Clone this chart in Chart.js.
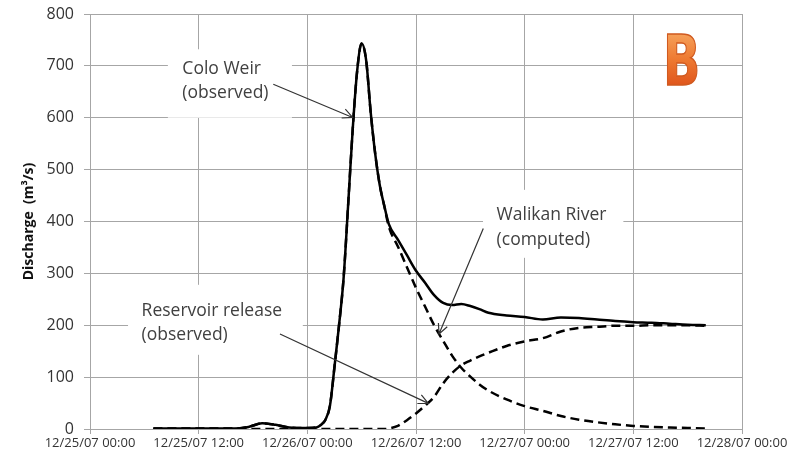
<!DOCTYPE html>
<html>
<head>
<meta charset="utf-8">
<script src="https://cdn.jsdelivr.net/npm/chart.js@4.4.0/dist/chart.umd.min.js"></script>
<style>
  body { margin: 0; background: #fff; }
  #wrap { width: 802px; height: 457px; }
</style>
</head>
<body>
<div id="wrap"><canvas id="dischargeChart" width="802" height="457"></canvas></div>
<script>
// Hours since 12/25/07 00:00
const hours = [7, 12, 16, 17.5, 19, 20.5, 22, 24, 25, 25.5, 26, 26.5, 27, 27.5, 28, 28.5,
  29, 29.5, 30, 30.5, 31, 31.5, 32, 32.5, 33, 34, 35, 36, 37, 38, 39, 40,
  41, 42, 43, 44, 46, 48, 50, 52, 54, 56, 58, 60, 62, 64, 66, 68];

// Discharge (m3/s)
const coloWeir = [1, 1, 1, 4, 11, 8, 3, 2, 3, 8, 18, 45, 120, 200, 290, 430,
  575, 690, 743, 710, 610, 530, 470, 430, 395, 365, 335, 305, 282, 258, 243, 239,
  241, 237, 231, 224, 219, 216, 211, 215, 214, 211, 208, 206, 205, 203, 201, 200];
const walikanRiver = [1, 1, 1, 4, 11, 8, 3, 2, 3, 8, 18, 45, 120, 200, 290, 430,
  575, 690, 743, 710, 610, 530, 470, 430, 390, 352, 312, 272, 236, 200, 170, 141,
  118, 101, 86, 74, 57, 44, 35, 25, 18, 13, 9, 6, 4, 3, 2, 1];
const reservoirRelease = [0, 0, 0, 0, 0, 0, 0, 0, 0, 0, 0, 0, 0, 0, 0, 0,
  0, 0, 0, 0, 0, 0, 0, 0, 1, 6, 17, 30, 45, 62, 88, 108,
  123, 132, 140, 147, 160, 169, 175, 188, 195, 197, 199, 199, 200, 200, 200, 199];

const xTickLabels = ['12/25/07 00:00', '12/25/07 12:00', '12/26/07 00:00', '12/26/07 12:00',
  '12/27/07 00:00', '12/27/07 12:00', '12/28/07 00:00'];

// callouts, placed in axis units (hours, m3/s)
const callouts = [
  { lines: ['Colo Weir', '(observed)'], box: [8.6, 22.3, 732, 600], textX: 10.2, textY: [694, 648],
    arrow: [20.24, 664.7, 29.0, 600.6] },
  { lines: ['Walikan River', '(computed)'], box: [43.4, 58.9, 461, 330], textX: 44.9, textY: [412, 364],
    arrow: [43.43, 386.7, 38.54, 183] },
  { lines: ['Reservoir release', '(observed)'], box: [4.2, 23.5, 278, 143], textX: 5.7, textY: [227, 181],
    arrow: [20.98, 183, 37.36, 49.4] }
];

function toPoints(values) {
  return values.map((v, i) => ({ x: hours[i], y: v }));
}

function drawArrow(ctx, x1, y1, x2, y2) {
  const ang = Math.atan2(y2 - y1, x2 - x1);
  const len = 11, spread = 0.45;
  ctx.beginPath();
  ctx.moveTo(x1, y1);
  ctx.lineTo(x2, y2);
  ctx.moveTo(x2 - len * Math.cos(ang - spread), y2 - len * Math.sin(ang - spread));
  ctx.lineTo(x2, y2);
  ctx.lineTo(x2 - len * Math.cos(ang + spread), y2 - len * Math.sin(ang + spread));
  ctx.stroke();
}

const calloutPlugin = {
  id: 'callouts',
  beforeDatasetsDraw(chart) {
    const { ctx, scales: { x, y } } = chart;
    ctx.save();
    callouts.forEach(c => {
      const l = x.getPixelForValue(c.box[0]), r = x.getPixelForValue(c.box[1]);
      const t = y.getPixelForValue(c.box[2]), b = y.getPixelForValue(c.box[3]);
      ctx.fillStyle = '#fff';
      ctx.fillRect(l, t, r - l, b - t);
      ctx.fillStyle = '#404040';
      ctx.font = '17.5px "Open Sans"';
      ctx.textBaseline = 'middle';
      ctx.textAlign = 'left';
      c.lines.forEach((txt, i) => {
        ctx.fillText(txt, x.getPixelForValue(c.textX), y.getPixelForValue(c.textY[i]));
      });
    });
    ctx.restore();
  },
  afterDatasetsDraw(chart) {
    const { ctx, scales: { x, y } } = chart;
    ctx.save();
    ctx.strokeStyle = '#333';
    ctx.lineWidth = 1.2;
    callouts.forEach(c => {
      const a = c.arrow;
      drawArrow(ctx, x.getPixelForValue(a[0]), y.getPixelForValue(a[1]),
        x.getPixelForValue(a[2]), y.getPixelForValue(a[3]));
    });

    // panel letter
    ctx.translate(663, 85);
    ctx.scale(0.7, 1);
    ctx.font = 'bold 70px "DejaVu Sans"';
    ctx.textBaseline = 'alphabetic';
    const grad = ctx.createLinearGradient(0, -52, 0, 0);
    grad.addColorStop(0, '#f6a15a');
    grad.addColorStop(0.5, '#ee7a32');
    grad.addColorStop(1, '#e0561c');
    ctx.fillStyle = grad;
    ctx.fillText('B', 0, 0);
    ctx.lineWidth = 1.5;
    ctx.strokeStyle = '#d05a20';
    ctx.strokeText('B', 0, 0);
    ctx.restore();
  }
};

const ctx = document.getElementById('dischargeChart').getContext('2d');
const chart = new Chart(ctx, {
  type: 'line',
  data: {
    datasets: [
      {
        label: 'Reservoir release (observed)',
        data: toPoints(reservoirRelease),
        borderColor: '#000',
        borderWidth: 2.5,
        borderDash: [9, 5],
        pointRadius: 0,
        cubicInterpolationMode: 'monotone',
        fill: false
      },
      {
        label: 'Colo Weir (observed)',
        data: toPoints(coloWeir),
        borderColor: '#000',
        borderWidth: 2.5,
        pointRadius: 0,
        cubicInterpolationMode: 'monotone',
        fill: false
      },
      {
        label: 'Walikan River (computed)',
        data: toPoints(walikanRiver),
        borderColor: '#000',
        borderWidth: 2.5,
        borderDash: [9, 5],
        pointRadius: 0,
        cubicInterpolationMode: 'monotone',
        fill: false
      }
    ]
  },
  options: {
    responsive: false,
    animation: false,
    devicePixelRatio: 1,
    layout: { padding: { left: 0, right: 60, top: 14, bottom: 0 } },
    plugins: {
      legend: { display: false },
      tooltip: { enabled: false }
    },
    scales: {
      x: {
        type: 'linear',
        min: 0,
        max: 72,
        afterFit: s => { s.height = 28; },
        grid: { color: '#a6a6a6', lineWidth: 1, tickLength: 5 },
        border: { color: '#a6a6a6' },
        ticks: {
          stepSize: 12,
          autoSkip: false,
          maxRotation: 0,
          padding: 1,
          color: '#333',
          font: { family: 'Open Sans', size: 13 },
          callback: v => xTickLabels[v / 12]
        }
      },
      y: {
        min: 0,
        max: 800,
        afterFit: s => { s.width = 90; s.paddingTop = 8; s.paddingBottom = 8; },
        grid: { color: '#a6a6a6', lineWidth: 1, tickLength: 6 },
        border: { color: '#a6a6a6' },
        ticks: {
          stepSize: 100,
          padding: 10,
          color: '#333',
          font: { family: 'Open Sans', size: 16 }
        },
        title: {
          display: true,
          text: 'Discharge  (m³/s)',
          color: '#111',
          font: { family: 'Open Sans', size: 14, weight: 'bold' },
          padding: { top: 21, bottom: 0 }
        }
      }
    }
  },
  plugins: [calloutPlugin]
});
</script>
</body>
</html>
